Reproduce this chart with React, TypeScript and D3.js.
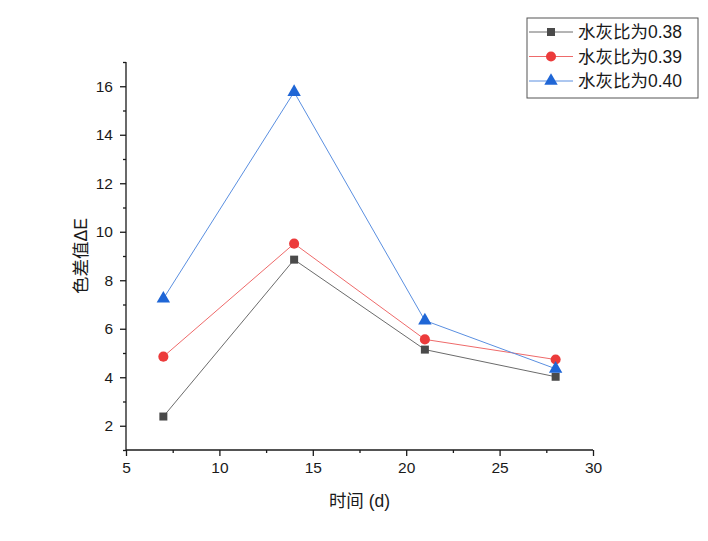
import React, { useEffect, useRef } from 'react';
import * as d3 from 'd3';

// data
const days = [7, 14, 21, 28];
const ratio038 = [2.38, 8.85, 5.14, 4.02];
const ratio039 = [4.85, 9.51, 5.56, 4.73];
const ratio040 = [7.24, 15.76, 6.34, 4.35];
const seriesNames = ['水灰比为0.38', '水灰比为0.39', '水灰比为0.40'];
const xTicks = [5, 10, 15, 20, 25, 30];
const yTicks = [2, 4, 6, 8, 10, 12, 14, 16];

const W = 708;
const H = 541;
const FONT = '"Liberation Sans", Arial, "Noto Sans CJK SC", sans-serif';

const App: React.FC = () => {
  const ref = useRef<SVGSVGElement | null>(null);

  useEffect(() => {
    if (!ref.current) return;
    const svg = d3.select(ref.current);
    svg.selectAll('*').remove();

    const left = 126, right = 593, top = 62, bottom = 450;
    const x = d3.scaleLinear().domain([5, 30]).range([left, right]);
    const y = d3.scaleLinear().domain([1, 17]).range([bottom, top]);

    const series = [
      { name: seriesNames[0], values: ratio038, color: '#4a4a4a', line: '#6b6b6b', shape: d3.symbolSquare, size: 64 },
      { name: seriesNames[1], values: ratio039, color: '#ec3b3b', line: '#ee6a6a', shape: d3.symbolCircle, size: 80 },
      { name: seriesNames[2], values: ratio040, color: '#1f66d6', line: '#5a8fe0', shape: d3.symbolTriangle, size: 78 },
    ];

    // axes
    const xAxis = d3.axisBottom(x).tickValues(xTicks).tickSize(6).tickPadding(6).tickFormat(d3.format('d'));
    const xMinor = d3.axisBottom(x).tickValues(d3.range(7.5, 30, 5)).tickSize(3).tickFormat(() => '');
    const yAxis = d3.axisLeft(y).tickValues(yTicks).tickSize(6).tickPadding(7).tickFormat(d3.format('d'));
    const yMinor = d3.axisLeft(y).tickValues(d3.range(1, 17.01, 2)).tickSize(3).tickFormat(() => '');

    const styleAxis = (g: d3.Selection<SVGGElement, unknown, null, undefined>) => {
      g.selectAll('path, line').attr('stroke', '#1a1a1a').attr('stroke-width', 1.3);
      g.selectAll('text').attr('font-family', FONT).attr('font-size', 15.5).attr('fill', '#1a1a1a');
    };

    svg.append('g').attr('transform', `translate(0,${bottom})`).call(xMinor).call(styleAxis);
    svg.append('g').attr('transform', `translate(0,${bottom})`).call(xAxis).call(styleAxis);
    svg.append('g').attr('transform', `translate(${left},0)`).call(yMinor).call(styleAxis);
    svg.append('g').attr('transform', `translate(${left},0)`).call(yAxis).call(styleAxis);
    svg.selectAll('.domain').attr('d', null);
    svg.append('line').attr('x1', left).attr('x2', left).attr('y1', top).attr('y2', bottom)
      .attr('stroke', '#1a1a1a').attr('stroke-width', 1.3);
    svg.append('line').attr('x1', left).attr('x2', right).attr('y1', bottom).attr('y2', bottom)
      .attr('stroke', '#1a1a1a').attr('stroke-width', 1.3);

    // axis titles
    svg.append('text')
      .attr('x', (left + right) / 2).attr('y', 507)
      .attr('text-anchor', 'middle')
      .attr('font-family', FONT).attr('font-size', 17.5).attr('fill', '#1a1a1a')
      .text('时间 (d)');
    svg.append('text')
      .attr('transform', `translate(87,${(top + bottom) / 2}) rotate(-90)`)
      .attr('text-anchor', 'middle')
      .attr('font-family', FONT).attr('font-size', 17.5).attr('fill', '#1a1a1a')
      .text('色差值ΔE');

    // lines and markers
    const line = d3.line<number>().x((_, i) => x(days[i])).y((d) => y(d));
    series.forEach((s) => {
      svg.append('path').datum(s.values)
        .attr('d', line).attr('fill', 'none')
        .attr('stroke', s.line).attr('stroke-width', 1);
      svg.append('g').selectAll('path').data(s.values).enter().append('path')
        .attr('d', d3.symbol().type(s.shape).size(s.size)())
        .attr('transform', (d, i) => `translate(${x(days[i])},${y(d)})`)
        .attr('fill', s.color);
    });

    // legend
    const lg = svg.append('g').attr('transform', 'translate(527,18)');
    lg.append('rect').attr('width', 171).attr('height', 80)
      .attr('fill', 'white').attr('stroke', '#555').attr('stroke-width', 1);
    series.forEach((s, i) => {
      const cy = 14 + i * 24.5;
      lg.append('line').attr('x1', 2).attr('x2', 46).attr('y1', cy).attr('y2', cy)
        .attr('stroke', s.line).attr('stroke-width', 1);
      lg.append('path').attr('d', d3.symbol().type(s.shape).size(s.size)())
        .attr('transform', `translate(24,${cy})`).attr('fill', s.color);
      lg.append('text').attr('x', 51).attr('y', cy + 6)
        .attr('font-family', FONT).attr('font-size', 17.5).attr('fill', '#1a1a1a')
        .text(s.name);
    });
  }, []);

  return (
    <svg ref={ref} width={W} height={H}
      style={{ position: 'absolute', left: 0, top: 0, background: 'white' }} />
  );
};

export default App;
